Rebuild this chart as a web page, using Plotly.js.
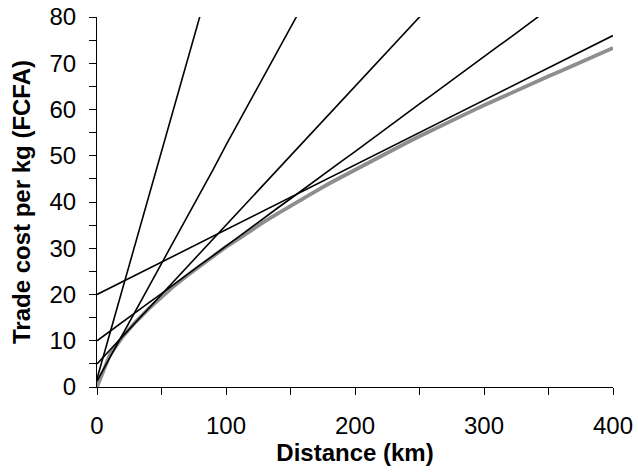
<!DOCTYPE html>
<html>
<head>
<meta charset="utf-8">
<script src="https://cdn.plot.ly/plotly-3.0.1.min.js"></script>
<style>html,body{margin:0;padding:0;background:#fff;}</style>
</head>
<body>
<div id="chart" style="width:638px;height:474px;"></div>
<script>
// Distance samples (km)
const distance = [0,10,20,30,40,50,60,70,80,90,100,110,120,130,140,150,160,170,180,190,200,210,220,230,240,250,260,270,280,290,300,310,320,330,340,350,360,370,380,390,400];

// Trade cost per kg (FCFA) for each transport option
const costA = [1.8,11.6,21.5,31.3,41.0,51.2,60.8,70.5,80.4,90.2];
const costB = [1.3,6.3,11.4,16.5,21.6,26.7,31.7,36.8,41.9,47.0,52.3,57.4,62.5,67.6,72.6,77.7,82.8];
const costC = [5.0,8.0,11.0,14.0,17.0,20.0,23.1,26.0,29.0,32.0,35.0,38.1,41.0,44.0,47.1,50.0,53.0,56.0,59.1,62.0,65.0,68.1,71.0,74.0,77.1,80.0,83.0];
const costD = [10.0,12.1,14.1,16.2,18.2,20.2,22.3,24.3,26.4,28.4,30.5,32.5,34.6,36.6,38.7,40.7,42.8,44.8,46.9,48.9,50.9,53.0,55.0,57.1,59.1,61.2,63.2,65.3,67.3,69.4,71.4,73.5,75.5,77.6,79.6,81.7];
const costE = [20.0,21.4,22.8,24.2,25.6,27.0,28.4,29.8,31.2,32.6,34.0,35.4,36.8,38.2,39.6,41.0,42.4,43.8,45.2,46.6,48.0,49.4,50.8,52.2,53.6,55.0,56.4,57.8,59.2,60.6,62.0,63.4,64.8,66.2,67.6,69.0,70.4,71.8,73.2,74.6,76.0];
const costMin = [0,7.0,10.9,14.1,16.9,19.5,21.9,24.1,26.2,28.3,30.3,32.1,34.0,35.8,37.5,39.2,40.8,42.4,44.0,45.5,47.0,48.5,50.0,51.4,52.8,54.2,55.6,57.0,58.3,59.6,60.9,62.2,63.4,64.7,66.0,67.2,68.4,69.6,70.8,72.1,73.3];

const FONT = 'Liberation Sans, Arial, Helvetica, sans-serif';
const blackLine = {color:'#000000', width:1.6};

function series(y, line) {
  return {x: distance.slice(0, y.length), y: y, mode:'lines', line: line, hoverinfo:'skip', cliponaxis:true};
}

const data = [
  series(costMin, {color:'#8e8e8e', width:3.8}),
  series(costA, blackLine),
  series(costB, blackLine),
  series(costC, blackLine),
  series(costD, blackLine),
  series(costE, blackLine)
];

const axisCommon = {
  showgrid:false, zeroline:false, showline:true, linecolor:'#000', linewidth:1,
  ticks:'outside', ticklen:7, tickwidth:1, tickcolor:'#000',
  tickfont:{family:FONT, size:24, color:'#000'}
};

const layout = {
  width:638, height:474,
  margin:{l:97, r:25, t:17, b:87},
  paper_bgcolor:'#fff', plot_bgcolor:'#fff',
  showlegend:false,
  font:{family:FONT, color:'#000'},
  xaxis: Object.assign({}, axisCommon, {
    range:[0,400], tick0:0, dtick:100, ticklabelstandoff:10,
    minor:{dtick:50, ticks:'outside', ticklen:7, tickwidth:1, tickcolor:'#000', showgrid:false},
    title:{text:'<b>Distance (km)</b>', font:{family:FONT, size:24, color:'#000'}, standoff:4}
  }),
  yaxis: Object.assign({}, axisCommon, {
    range:[0,80], tick0:0, dtick:10, ticklabelstandoff:8,
    minor:{dtick:5, ticks:'outside', ticklen:7, tickwidth:1, tickcolor:'#000', showgrid:false},
    title:{text:'<b>Trade cost per kg (FCFA)</b>', font:{family:FONT, size:24, color:'#000'}, standoff:12}
  })
};

Plotly.newPlot('chart', data, layout, {displayModeBar:false, staticPlot:true});
</script>
</body>
</html>
